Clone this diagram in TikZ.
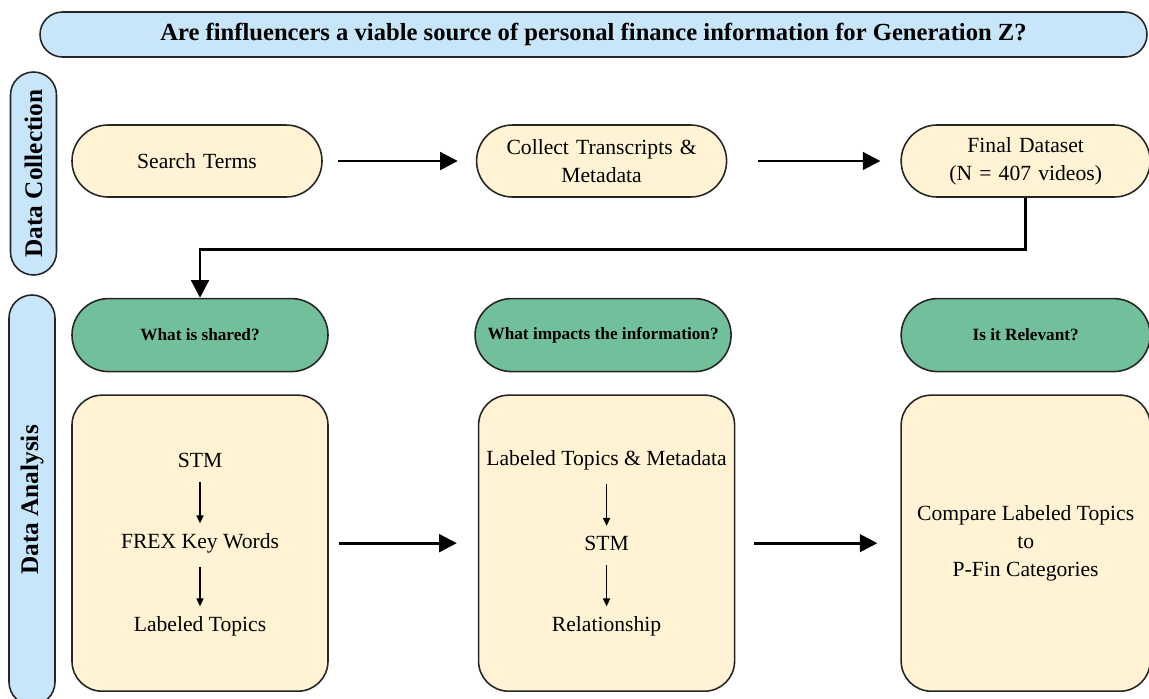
\documentclass[tikz,border=0pt]{standalone}
\usepackage{fontspec}
\setmainfont{Liberation Serif}
\usetikzlibrary{shapes,arrows.meta,positioning,calc}

\definecolor{headblue}{HTML}{C8E6FA}
\definecolor{creambox}{HTML}{FFF3D4}
\definecolor{qgreen}{HTML}{72BF9B}

\begin{document}
\begin{tikzpicture}[
    header/.style={rectangle, draw=black!85, line width=0.9pt, fill=headblue, minimum width=22.14cm, minimum height=0.9cm, rounded corners=0.45cm, font=\fontsize{14}{17}\selectfont\bfseries},
    sidebar/.style={rectangle, draw=black!85, line width=0.9pt, fill=headblue, rotate=90, minimum height=0.92cm, rounded corners=0.46cm, font=\fontsize{14.4}{17}\selectfont\bfseries},
    stepbox/.style={rectangle, draw=black!85, line width=0.9pt, fill=creambox, text width=4.6cm, align=center, minimum width=5cm, minimum height=1.44cm, rounded corners=0.72cm, font=\fontsize{12.3}{16}\selectfont},
    question/.style={rectangle, draw=black!85, line width=0.9pt, fill=qgreen, minimum width=5.12cm, minimum height=1.46cm, rounded corners=0.73cm, font=\fontsize{9.8}{12}\selectfont\bfseries},
    panel/.style={rectangle, draw=black!85, line width=0.9pt, fill=creambox, minimum width=5.12cm, minimum height=5.92cm, rounded corners=0.6cm},
    plain/.style={inner sep=2pt, align=center, on grid, font=\fontsize{12.3}{15.9}\selectfont},
    arrow/.style={-{Triangle[length=10pt,width=10pt]}, line width=1.6pt},
    tip/.style={-{Triangle[length=4.5pt,width=4pt]}, line width=0.8pt, shorten <=6pt, shorten >=3.5pt}
]
    \useasboundingbox (0,0) rectangle (22.98,-13.96);

    % question and stages
    \node[header] (title) at (11.87,-0.69) {Are finfluencers a viable source of personal finance information for Generation Z?};
    \node[sidebar, minimum width=4.06cm] (collection) at (0.67,-3.47) {Data Collection};
    \node[sidebar, minimum width=8.2cm] (analysis) at (0.64,-10.0) {Data Analysis};

    % data collection
    \node[stepbox] (search) at (3.94,-3.22) {Search Terms};
    \node[stepbox, right=3.06cm of search] (collect) {Collect Transcripts \&\\Metadata};
    \node[stepbox, minimum width=4.98cm, right=3.46cm of collect] (final) {Final Dataset\\(N = 407 videos)};

    % data analysis
    \node[question, below=2cm of search, xshift=0.06cm] (qshared) {What is shared?};
    \node[question, below=2cm of collect, xshift=0.03cm] (qimpact) {What impacts the information?};
    \node[question, minimum width=4.98cm, below=2cm of final] (qrelevant) {Is it Relevant?};

    \node[panel, below=0.44cm of qshared] (shared) {};
    \node[panel, below=0.44cm of qimpact, xshift=0.07cm] (impact) {};
    \node[panel, minimum width=4.98cm, below=0.44cm of qrelevant] (relevant) {};

    \node[plain] (frex) at (shared.center) {FREX Key Words};
    \node[plain, above=1.66cm of frex] (stma) {STM};
    \node[plain, below=1.66cm of frex] (labeled) {Labeled Topics};

    \node[plain] (stmb) at (impact.center) {STM};
    \node[plain, above=1.66cm of stmb] (labmeta) {Labeled Topics \& Metadata};
    \node[plain, below=1.66cm of stmb] (relation) {Relationship};

    \node[plain] (compare) at (relevant.center) {Compare Labeled Topics\\to\\P-Fin Categories};

    \draw[tip] (stma) -- (frex);
    \draw[tip] (frex) -- (labeled);
    \draw[tip] (labmeta) -- (stmb);
    \draw[tip] (stmb) -- (relation);

    \draw[arrow, shorten <=0.3cm, shorten >=0.36cm] (search) -- (collect);
    \draw[arrow, shorten <=0.62cm, shorten >=0.4cm] (collect) -- (final);
    \draw[arrow] (final.south) -- ++(0,-1.04) -| (qshared.north);
    \draw[arrow, shorten <=0.2cm, shorten >=0.42cm] (shared) -- (impact);
    \draw[arrow, shorten <=0.38cm, shorten >=0.46cm] (impact) -- (relevant);
\end{tikzpicture}
\end{document}
